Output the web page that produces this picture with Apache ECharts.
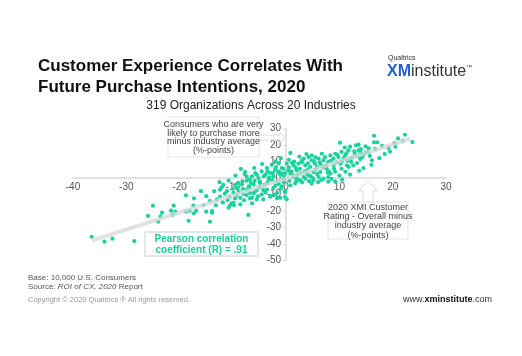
<!DOCTYPE html>
<html><head><meta charset="utf-8">
<script src="https://cdn.jsdelivr.net/npm/echarts@6/dist/echarts.min.js"></script>
<style>html,body{margin:0;padding:0;background:#fff}#c{width:522px;height:356px}</style>
</head><body><div id="c"></div>
<script>
// X: 2020 XMI Customer Rating - Overall minus industry average; Y: likely to purchase more minus industry average
const orgPoints = [
[-36.5,-35.6],[-34.1,-38.6],[-32.6,-36.8],[-28.5,-38.2],[-25.9,-23],[-25,-16.8],[-24,-26.5],[-23.6,-23.4],[-23.3,-21],[-21.6,-19.8],
[-21.3,-22.4],[-21.1,-16.8],[-20.8,-20.4],[-18.8,-10.5],[-18.8,-20.4],[-18.3,-25.9],[-18.1,-19.8],[-17.4,-16.8],[-17.3,-21.4],[-17.3,-12.3],
[-16.9,-19.8],[-15.5,-16.4],[-15,-20.4],[-13.9,-21],[-14.3,-26.5],[-12.4,-11.3],[-12.1,-5.6],[-11.8,-4.2],[-10.6,-11.3],[-10.5,-16.4],
[-10.2,-15.3],[-9.8,-16.4],[-9.6,-4.2],[-8.9,-8.3],[-8,-9.7],[-7.4,-10.3],[-7.1,-22.4],[-6.4,-15.3],[-6.8,-12.3],[-6.1,-9.3],
[-5.5,-7.3],[-4.9,-5.3],[-4.3,-7.3],[-3,-11.3],[-1.7,-12.3],[-4.9,-2.2],[-7.4,0.8],[-7.7,3.8],
[-7.8,2.4],[-7.4,-1.6],[-6.4,1],[-5.8,3],[-6.1,-4],[-5.2,0],[-4.9,-3],[-4.6,4],[-3.9,2],[-3.6,6],
[-3.3,-1],[-3,3],[-2.7,8],[-2.4,1],[-2.1,5],[-1.7,-2],[-1.1,2],[-0.8,6],[-1.4,9],[-0.5,-1],
[-0.2,3],[-12.4,-7.1],[-11.1,-8],[-9.9,-9],[-9.2,-6],[-8.6,-12],[-8.3,-4],[-7.4,-7],[-6.8,-9],[-6.4,-12],
[-5.8,-8],[-5.5,-13],[-4.6,-10],[-4.3,-13],[-3.6,-7],[-3,-11],[-2.4,-6],[-1.7,-9],[-1.1,-12],[-0.8,-5],
[-0.2,-8],[-14.3,-14],[-13.9,-20],[-9.9,-15],[-8.6,-16],[-10.8,-18],
[0.8,15.2],[10.1,21.4],[13.1,19.8],[11.7,16.8],[10.4,15.8],[9.2,14.7],[8.3,13.7],[6.7,14.7],[6.1,11.7],[4.8,10.7],
[4.2,12.7],[3.3,11.7],[2.3,8.7],[1.4,7.7],[0.1,8.7],[-0.5,5.6],[2,4.7],[2.6,5.6],[3.6,7.7],[4.5,6.7],
[5.4,8.7],[7,10.7],[7.9,9.7],[8.9,11.7],[9.8,12.7],[11.1,13.7],[12,11.7],[12.9,14.7],[13.6,16.8],[11.4,7.7],
[10.4,5.6],[7.6,5.6],[6.4,3.6],[5.1,3.6],[3.9,2.6],[0.8,2.6],[1.4,0.6],[3.3,0.6],[-0.8,2.6],[5.8,6.7],
[8.9,7.7],[4.8,13.7],[12.6,7.7],
[22.3,26.2],[23.7,21.8],[21.9,22.6],[20.3,21.2],[19.2,18.2],[16.7,17.6],[16.5,25.6],[16.5,21.6],[17.1,21.6],[13.6,20.2],
[15.4,15.6],[15,15.6],[14.2,12.5],[13.9,11.5],[16.1,10.7],[13.3,9.1],[13.7,4.4],
[-0.2,-8.5],[-0.2,-11.5],[0.1,-12.9],[0.8,-4.4],[1.7,-3.4],[2.6,-1.4],[3.6,-0.4],[4.8,-3.4],[5.1,-1.4],[6.1,0.6],
[7,-0.4],[7.9,0.6],[9.2,-2],[8.3,2.6],[-0.5,-2.4],[1.4,1.6],[2,-0.4],[4.2,1.6],
[7.9,-2.2],[9.2,3.8],[11.1,3.8],[11.7,6.8],
[-2,10],[-1,12],[0.5,11],[1,4],[2.8,3],[3,9.5],[4,5],[5.5,5],[6.5,8],[7.5,7.5],
[8,4],[9.5,9.5],[10.5,10],[11.5,10.5],[12.5,12.5],[14.5,14],[15.5,18],[14,17.5],[12,19],[11,18.5],
[5.5,12.5],[3.8,14.5],[2.5,13],[1.5,10],[0.5,6.5],[-1.5,4],[-2.5,3],[-3.5,4],[-4.2,1],[-5.5,2],
[-6.8,-1],[-8.2,-2],[-9,-3],[-10,-6.5],[-11.5,-9.5],[-13,-13],[-7,-5],[-5,-5.5],[-3.5,-3],[-2,-4.5],
[-1,-6.5],[3,-2.5],[5,0],[6,-2.5],[8.5,-0.5],[10,1.5],[10.5,-1],[12,2],[14.5,6],[16,8],
[17.5,12],[18.5,14.5],[19.5,16],[18,19.5],[20.5,19],[21,24],[-6,6],[-4.5,8.5],[-9.5,1.5],[-10.8,-1.5],
[-12.5,-2.5],[-13.5,-8],[-15,-11],[-16,-8],[-8.5,5.5],
[-9.3,-10.5],[-7.9,-13.5],[-6.9,-6.2],[-5.9,-1.8],[-4.1,-4.2],[-3.2,0.2],[-2.6,-1.3],[-1.9,6.6],[-1.2,3.5],[-0.4,0.8],
[0.4,4.6],[1.1,9.2],[1.8,6.1],[2.2,2.1],[2.9,10.4],[3.5,4.1],[4.1,8.9],[4.6,1.1],[5.2,10.1],[5.8,2.4],
[6.3,9.4],[6.9,6.3],[7.3,12.6],[7.8,3.2],[8.4,10.4],[9,5.6],[9.6,14.2],[10.2,8.6],[10.8,12.1],[11.3,15],
[12.2,9.8],[12.8,16.1],[13.4,13.2],[14,15.3],[14.9,19.2],[15.7,13.4],[-11,-13.4],[-9.6,-12.4],[-8.1,-6.7],[-6.6,-3.1],
[-5.3,-11.1],[-3.9,-8.8],[-2.3,-10.2],[-1.4,-3.6],[0.6,-1.6],[1.9,-2],[4.3,-1.9],[6.6,-1.2],[-13.2,-16.5],[-11.9,-14.8]
];
const trendX = [-36.5, 23.3];
const trendY = [-38, 23.8];
const xTicks = [-40, 30, 10];
const yTicks = [-50, 30, 10];

const green = '#18d39f';
const gridL = 73, gridR = 76, gridT = 128.5, gridB = 95.5, W = 522, H = 356;
const gridW = W - gridL - gridR, gridH = H - gridT - gridB;
const yAxisOffset = -((0 - xTicks[0]) / (xTicks[1] - xTicks[0])) * gridW;
const xAxisOffset = -((0 - yTicks[0]) / (yTicks[1] - yTicks[0])) * gridH;

const chart = echarts.init(document.getElementById('c'), null, {renderer:'canvas'});
const font = '"Liberation Sans", Arial, sans-serif';
const box1 = ['Consumers who are very','likely to purchase more','minus industry average','(%-points)'];
const box2 = ['2020 XMI Customer','Rating - Overall minus','industry average','(%-points)'];
const pearson = ['Pearson correlation','coefficient (R) = .91'];

chart.setOption({
  backgroundColor:'#fff',
  animation:false,
  textStyle:{fontFamily:font},
  title:[
    {text:'Customer Experience Correlates With\nFuture Purchase Intentions, 2020', left:33, top:51,
     textStyle:{fontSize:17, fontWeight:'bold', color:'#111', lineHeight:21, fontFamily:font}},
    {text:'319 Organizations Across 20 Industries', left:246, top:95, textAlign:'center',
     textStyle:{fontSize:12, fontWeight:'normal', color:'#222', fontFamily:font}}
  ],
  grid:{left:gridL, right:gridR, top:gridT, bottom:gridB, containLabel:false},
  xAxis:{type:'value', min:xTicks[0], max:xTicks[1], interval:xTicks[2], position:'bottom', offset:xAxisOffset,
    axisLine:{onZero:false, lineStyle:{color:'#dadada', width:1.5}},
    axisTick:{show:false}, splitLine:{show:false},
    axisLabel:{color:'#555', fontSize:10, margin:4, fontFamily:font}},
  yAxis:{type:'value', min:yTicks[0], max:yTicks[1], interval:yTicks[2], position:'left', offset:yAxisOffset,
    axisLine:{onZero:false, lineStyle:{color:'#dadada', width:1.5}},
    axisTick:{show:true, length:3, lineStyle:{color:'#dadada'}}, splitLine:{show:false},
    axisLabel:{color:'#555', fontSize:10, margin:5, fontFamily:font}},
  series:[
    {type:'scatter', data:orgPoints, symbol:'circle', symbolSize:4.2, itemStyle:{color:green, opacity:1}, z:2},
    {type:'line', data:trendX.map((x,i)=>[x,trendY[i]]), symbol:'none', silent:true,
     lineStyle:{color:'rgba(215,215,215,0.75)', width:4}, z:3}
  ],
  graphic:[
    {type:'polygon', shape:{points:[[259,135],[280,135],[280,132.5],[285.5,137.5],[280,142.5],[280,140],[259,140]]},
     style:{fill:'#fff', stroke:'#dcdcdc', lineWidth:1}, z:10},
    {type:'rect', shape:{x:168, y:117, width:91, height:40}, style:{fill:'#fff', stroke:'#e4e4e4', lineWidth:1}, z:10},
    {type:'text', x:213.5, y:120, style:{text:box1.join('\n'), fill:'#444', font:'9px '+font, textAlign:'center', lineHeight:8.7}, z:11},
    {type:'polygon', shape:{points:[[363,202],[363,191],[359,191],[368,180.5],[377,191],[373,191],[373,202]]},
     style:{fill:'#fff', stroke:'#dcdcdc', lineWidth:1}, z:10},
    {type:'rect', shape:{x:328, y:202, width:80, height:37}, style:{fill:'#fff', stroke:'#e4e4e4', lineWidth:1}, z:10},
    {type:'text', x:368, y:202.5, style:{text:box2.join('\n'), fill:'#444', font:'9px '+font, textAlign:'center', lineHeight:9.3}, z:11},
    {type:'rect', shape:{x:145, y:232, width:113, height:24}, style:{fill:'#fff', stroke:'#dedede', lineWidth:1.5}, z:10},
    {type:'text', x:201.5, y:234, style:{text:pearson.join('\n'), fill:'#1ccf98', font:'bold 10px '+font, textAlign:'center', lineHeight:10.5}, z:11},
    {type:'text', x:388, y:55, style:{text:'Qualtrics', fill:'#333', font:'7px '+font}},
    {type:'text', x:387, y:64, style:{text:'XM', fill:'#1f5fd0', font:'bold 16px '+font}},
    {type:'text', x:411, y:64, style:{text:'institute', fill:'#333', font:'16px '+font}},
    {type:'text', x:466, y:64, style:{text:'™', fill:'#333', font:'6px '+font}},
    {type:'text', x:28, y:274, style:{text:'Base: 10,000 U.S. Consumers', fill:'#555', font:'8px '+font}},
    {type:'text', x:28, y:283, style:{text:'{r|Source: }{i|ROI of CX, 2020}{r| Report}',
      rich:{r:{fontSize:8, fill:'#555', fontFamily:font}, i:{fontSize:8, fill:'#555', fontStyle:'italic', fontFamily:font}}}},
    {type:'text', x:28, y:296, style:{text:'Copyright © 2020 Qualtrics ® All rights reserved.', fill:'#999', font:'7.5px '+font}},
    {type:'text', x:403, y:295, style:{text:'{r|www.}{b|xminstitute}{r|.com}',
      rich:{r:{fontSize:9, fill:'#333', fontFamily:font}, b:{fontSize:9, fill:'#111', fontWeight:'bold', fontFamily:font}}}}
  ]
});
</script></body></html>
